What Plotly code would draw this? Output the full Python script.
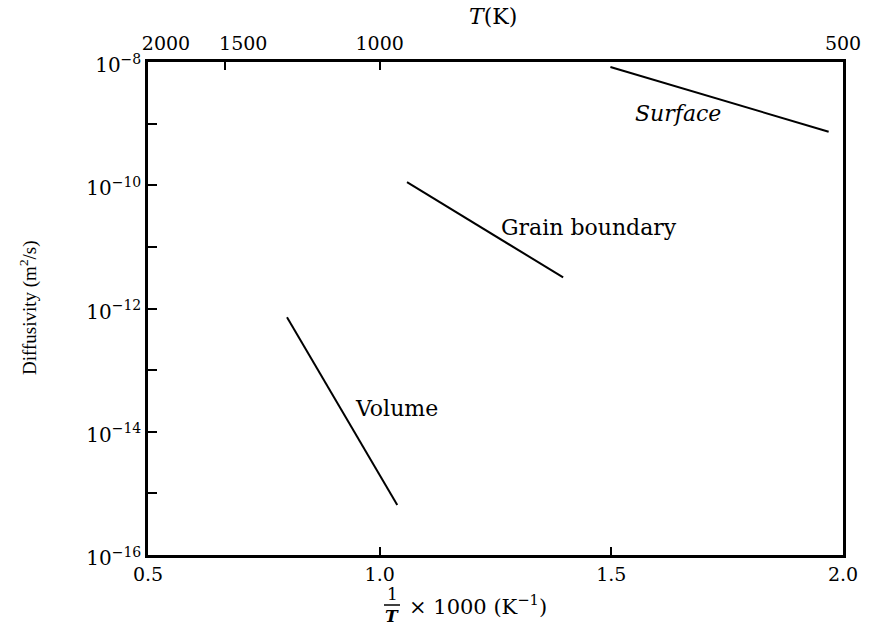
import plotly.graph_objects as go

# ---- data ----
vol_x = [0.800, 1.038]
vol_d = [7.2e-13, 6.5e-16]
gb_x = [1.059, 1.396]
gb_d = [1.12e-10, 3.2e-12]
surf_x = [1.498, 1.969]
surf_d = [8.3e-9, 7.4e-10]

x_ticks = [0.5, 1.0, 1.5, 2.0]
x_ticktext = ["0.5", "1.0", "1.5", "2.0"]
top_temps = [2000, 1500, 1000, 500]
top_shifted = [2000, 1500]   # labels printed a little right of their ticks
top_plain = [1000, 500]
y_exps = [-8, -9, -10, -11, -12, -13, -14, -15, -16]

labels = [
    ("<i>Surface</i>", 1.644, -8.83),
    ("Grain boundary", 1.452, -10.69),
    ("Volume", 1.037, -13.63),
]

FONT = "DejaVu Serif"
FONT_T = "Liberation Serif"
W, H = 875, 630
L, R, T, B = 148, 32, 62, 75
PW, PH = W - L - R, H - T - B


def px2paper(px, py):
    return (px - L) / PW, (H - B - py) / PH


fig = go.Figure()
line = dict(color="black", width=2)
for xs, ds in [(vol_x, vol_d), (gb_x, gb_d), (surf_x, surf_d)]:
    fig.add_trace(go.Scatter(x=xs, y=ds, mode="lines", line=line,
                             showlegend=False, hoverinfo="skip"))

# invisible traces for the top temperature axes
top_pos = [1000.0 / t for t in top_temps]
for ax_name in ["x2", "x3"]:
    fig.add_trace(go.Scatter(x=top_pos, y=[1e-12] * len(top_pos),
                             xaxis=ax_name, mode="markers",
                             marker=dict(opacity=0),
                             showlegend=False, hoverinfo="skip"))

y_tickvals = [10.0 ** e for e in y_exps]
y_ticktext = [f"10<sup>−{-e}</sup>" if e % 2 == 0 else "" for e in y_exps]

tick_font = dict(family=FONT, size=19, color="black")
common = dict(showgrid=False, zeroline=False, fixedrange=True,
              automargin=False, tickangle=0)

fig.update_layout(
    width=W, height=H,
    margin=dict(l=L, r=R, t=T, b=B),
    paper_bgcolor="white", plot_bgcolor="white",
    font=dict(family=FONT, size=19, color="black"),
    xaxis=dict(range=[0.5, 2.0], tickvals=x_ticks, ticktext=x_ticktext,
               ticks="inside", ticklen=8, tickwidth=2, tickcolor="black",
               showline=True, linecolor="black", linewidth=2.5, mirror=False,
               tickfont=tick_font, **common),
    xaxis2=dict(range=[0.5, 2.0], overlaying="x", side="top", anchor="y",
                tickvals=top_pos,
                ticktext=[str(t) if t in top_plain else "" for t in top_temps],
                ticks="inside", ticklen=8, tickwidth=2, tickcolor="black",
                showline=True, linecolor="black", linewidth=2.5,
                ticklabelstandoff=2,
                tickfont=tick_font, **common),
    xaxis3=dict(range=[0.5, 2.0], overlaying="x", side="top", anchor="y",
                tickvals=[1000.0 / t for t in top_shifted],
                ticktext=[str(t) for t in top_shifted],
                ticks="inside", ticklen=8, tickwidth=2,
                tickcolor="rgba(0,0,0,0)",
                showline=True, linecolor="rgba(0,0,0,0)", linewidth=2.5,
                ticklabelshift=18, ticklabelstandoff=2,
                tickfont=tick_font, **common),
    yaxis=dict(type="log", range=[-16, -8], tickvals=y_tickvals,
               ticktext=y_ticktext, ticks="inside", ticklen=9, tickwidth=2,
               tickcolor="black", showline=True, linecolor="black",
               linewidth=2.5, mirror=True, ticklabelshift=3,
               tickfont=dict(family=FONT, size=20, color="black"), **common),
)

for txt, xv, ly in labels:
    fig.add_annotation(x=xv, y=ly, xref="x", yref="y", text=txt,
                       xanchor="center", yanchor="middle",
                       showarrow=False, font=dict(family=FONT, size=22))

# top axis title
ax, ay = px2paper(493, 17)
fig.add_annotation(x=ax, y=ay, xref="paper", yref="paper",
                   xanchor="center", yanchor="middle",
                   text="<i>T</i>(K)", showarrow=False,
                   font=dict(family=FONT, size=22))

# y axis title
ax, ay = px2paper(28, 308)
fig.add_annotation(x=ax, y=ay, xref="paper", yref="paper", textangle=-90,
                   xanchor="center", yanchor="middle",
                   text="Diffusivity (m<sup>2</sup>/s)", showarrow=False,
                   font=dict(family=FONT_T, size=19))

# bottom axis title: fraction 1/T x 1000 (K^-1)
ax, ay = px2paper(392, 594)
fig.add_annotation(x=ax, y=ay, xref="paper", yref="paper", text="1",
                   xanchor="center", yanchor="middle",
                   showarrow=False, font=dict(family=FONT, size=17))
ax, ay = px2paper(392, 616)
fig.add_annotation(x=ax, y=ay, xref="paper", yref="paper",
                   xanchor="center", yanchor="middle",
                   text="<b><i>T</i></b>", showarrow=False,
                   font=dict(family=FONT, size=17))
x0, y0 = px2paper(384, 605)
x1, _ = px2paper(400, 605)
fig.add_shape(type="line", xref="paper", yref="paper", x0=x0, x1=x1,
              y0=y0, y1=y0, line=dict(color="black", width=1.5))
ax, ay = px2paper(407, 605)
fig.add_annotation(x=ax, y=ay, xref="paper", yref="paper", xanchor="left",
                   yanchor="middle",
                   text="× 1000 (K<sup>−1</sup>)", showarrow=False,
                   font=dict(family=FONT, size=21))

fig.write_html("out.html")
